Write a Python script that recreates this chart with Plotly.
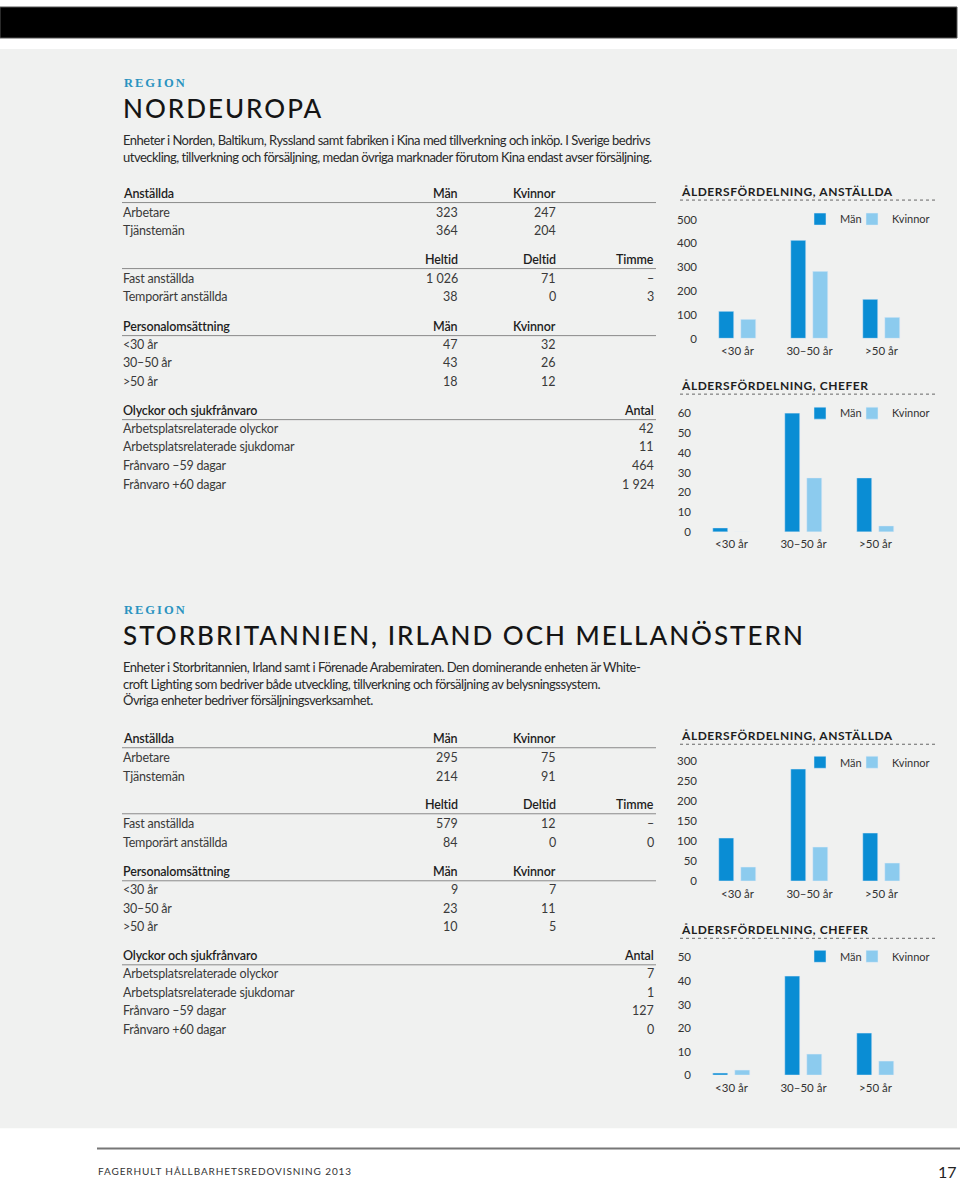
import plotly.graph_objects as go

W, H = 960, 1185
FONT = "Lato, 'Noto Sans', sans-serif"
SERIF = "'Liberation Serif', 'DejaVu Serif', serif"

MEN_COLOR = "#0a8dd4"
WOMEN_COLOR = "#8ccbee"
BG = "#f0f1f0"
TEXT = "#3a3a3a"
HEAD = "#1e1e1e"
ACCENT = "#2a93c0"

# ---------------- data ----------------
age_groups = ["<30 år", "30–50 år", ">50 år"]
legend_names = ["Män", "Kvinnor"]

ne_staff_men = [112, 413, 162]
ne_staff_women = [80, 283, 88]
ne_mgr_men = [2, 60, 27]
ne_mgr_women = [0, 27, 3]
uk_staff_men = [108, 281, 120]
uk_staff_women = [35, 85, 46]
uk_mgr_men = [1, 42, 18]
uk_mgr_women = [2, 9, 6]

chart_titles = ["ÅLDERSFÖRDELNING, ANSTÄLLDA", "ÅLDERSFÖRDELNING, CHEFER"]

ne_title = "NORDEUROPA"
ne_intro = [
    "Enheter i Norden, Baltikum, Ryssland samt fabriken i Kina med tillverkning och inköp. I Sverige bedrivs",
    "utveckling, tillverkning och försäljning, medan övriga marknader förutom Kina endast avser försäljning.",
]
uk_title = "STORBRITANNIEN, IRLAND OCH MELLANÖSTERN"
uk_intro = [
    "Enheter i Storbritannien, Irland samt i Förenade Arabemiraten. Den dominerande enheten är White-",
    "croft Lighting som bedriver både utveckling, tillverkning och försäljning av belysningssystem.",
    "Övriga enheter bedriver försäljningsverksamhet.",
]

hdr_staff = ["Anställda", "Män", "Kvinnor"]
hdr_contract = ["", "Heltid", "Deltid", "Timme"]
hdr_turnover = ["Personalomsättning", "Män", "Kvinnor"]
hdr_absence = ["Olyckor och sjukfrånvaro", "Antal"]

ne_staff = [("Arbetare", "323", "247"), ("Tjänstemän", "364", "204")]
ne_contract = [("Fast anställda", "1 026", "71", "–"), ("Temporärt anställda", "38", "0", "3")]
ne_turnover = [("<30 år", "47", "32"), ("30–50 år", "43", "26"), (">50 år", "18", "12")]
ne_absence = [("Arbetsplatsrelaterade olyckor", "42"), ("Arbetsplatsrelaterade sjukdomar", "11"),
              ("Frånvaro –59 dagar", "464"), ("Frånvaro +60 dagar", "1 924")]

uk_staff = [("Arbetare", "295", "75"), ("Tjänstemän", "214", "91")]
uk_contract = [("Fast anställda", "579", "12", "–"), ("Temporärt anställda", "84", "0", "0")]
uk_turnover = [("<30 år", "9", "7"), ("30–50 år", "23", "11"), (">50 år", "10", "5")]
uk_absence = [("Arbetsplatsrelaterade olyckor", "7"), ("Arbetsplatsrelaterade sjukdomar", "1"),
              ("Frånvaro –59 dagar", "127"), ("Frånvaro +60 dagar", "0")]

footer_text = "FAGERHULT HÅLLBARHETSREDOVISNING 2013"
page_no = "17"

# ---------------- helpers ----------------
annotations = []
shapes = []

# vertical layout positions below are measured on the reference picture;
# they are mapped to page pixels here
Y_OFF, Y_SCALE = 7.0, 0.9887


def Y(y):
    return max(0.0, (y - Y_OFF) / Y_SCALE)


def esc(s):
    return s.replace("&", "&amp;").replace("<", "&lt;").replace(">", "&gt;")


def text(x, y, s, size=12.5, color=TEXT, anchor="left", weight=None, family=FONT, spacing=None):
    body = esc(s)
    if spacing is not None:
        body = f'<span style="letter-spacing:{spacing}px">{body}</span>'
    f = dict(family=family, size=size, color=color)
    if weight is not None:
        f["weight"] = weight
    annotations.append(dict(
        x=x / W, y=1 - Y(y) / H, xref="paper", yref="paper", text=body, showarrow=False,
        xanchor=anchor, yanchor="middle", font=f, borderpad=0))


def hline(y, x0, x1, color="#8a8a8a", width=1, dash="solid"):
    yy = 1 - Y(y) / H
    shapes.append(dict(type="line", xref="paper", yref="paper", x0=x0 / W, x1=x1 / W,
                       y0=yy, y1=yy, line=dict(color=color, width=width, dash=dash)))


def rect(x0, y0, x1, y1, fill, line=None):
    shapes.append(dict(type="rect", xref="paper", yref="paper", x0=x0 / W, x1=x1 / W,
                       y0=1 - Y(y1) / H, y1=1 - Y(y0) / H, fillcolor=fill,
                       line=dict(width=1 if line else 0, color=line or fill), layer="below"))


# ---------------- page background ----------------
rect(0, 0, 957, 38, "#000000", line="#555555")
rect(0, 49, 957, 1128, BG)
hline(1148, 97, 960, color="#777777", width=2)
text(97, 1171, footer_text, size=10, color="#333333", spacing=0.9)
text(958, 1171, page_no, size=16, color="#222222", anchor="right")

# ---------------- region headers ----------------
LX = 122
COLS = [459, 557, 655]


def region(y0, title, intro):
    text(LX + 1, y0, "REGION", size=12.5, color=ACCENT, family=SERIF, weight="bold", spacing=2.0)
    text(LX, y0 + 25, title, size=26, color="#151515", weight=500, spacing=2.0)
    for i, line in enumerate(intro):
        text(LX, y0 + 57 + i * 16.6, line, size=13, color="#2a2a2a", spacing=-0.5)


region(83, ne_title, ne_intro)
region(610, uk_title, uk_intro)


def table(top, staff, contract, turnover, absence):
    def head(y, labels, cols):
        if labels[0]:
            text(LX, y, labels[0], weight=600, color=HEAD, spacing=-0.15)
        for lab, cx in zip(labels[1:], cols):
            text(cx, y, lab, weight=600, color=HEAD, anchor="right", spacing=-0.15)
        hline(y + 9.5, LX, 656)

    def rows(y, data, cols):
        for i, row in enumerate(data):
            yy = y + i * 18.8
            text(LX, yy, row[0], spacing=-0.2)
            for v, cx in zip(row[1:], cols):
                text(cx, yy, v, anchor="right")

    head(top, hdr_staff, COLS[:2])
    rows(top + 19, staff, COLS[:2])
    head(top + 66, hdr_contract, COLS)
    rows(top + 85, contract, COLS)
    head(top + 133, hdr_turnover, COLS[:2])
    rows(top + 151, turnover, COLS[:2])
    head(top + 217, hdr_absence, COLS[2:])
    rows(top + 235, absence, COLS[2:])


table(193, ne_staff, ne_contract, ne_turnover, ne_absence)
table(738, uk_staff, uk_contract, uk_turnover, uk_absence)

# ---------------- charts ----------------
fig = go.Figure()

charts = [
    dict(men=ne_staff_men, women=ne_staff_women, base=338.5, top=219.5, ymax=500, dtick=100,
         c0=737.5, L=700, title=chart_titles[0], ty=191, ly=219),
    dict(men=ne_mgr_men, women=ne_mgr_women, base=531.7, top=413.0, ymax=60, dtick=10,
         c0=731.5, L=694, title=chart_titles[1], ty=385, ly=413),
    dict(men=uk_staff_men, women=uk_staff_women, base=881.0, top=761.0, ymax=300, dtick=50,
         c0=737.5, L=700, title=chart_titles[0], ty=735, ly=762),
    dict(men=uk_mgr_men, women=uk_mgr_women, base=1075.0, top=957.0, ymax=50, dtick=10,
         c0=731.5, L=694, title=chart_titles[1], ty=929, ly=956),
]

STEP = 72.0          # px per category
BW = 15.5            # bar width px
GAP = 6.5            # gap between paired bars px
R = 930
LEG_X = [800, 852]   # left edges of the two legend entries (px)

layout_axes = {"showlegend": True}
n_leg = 1
for i, c in enumerate(charts, start=1):
    xa = "x" if i == 1 else f"x{i}"
    ya = "y" if i == 1 else f"y{i}"
    legs = []
    for k in range(2):
        n_leg += 1
        legs.append(f"legend{n_leg}")
    fig.add_trace(go.Bar(
        x=age_groups, y=c["men"], name=legend_names[0], marker_color=MEN_COLOR,
        width=BW / STEP, offset=-(BW + GAP / 2) / STEP, xaxis=xa, yaxis=ya, legend=legs[0],
        showlegend=True, hoverinfo="x+y+name"))
    fig.add_trace(go.Bar(
        x=age_groups, y=c["women"], name=legend_names[1], marker_color=WOMEN_COLOR,
        width=BW / STEP, offset=(GAP / 2) / STEP, xaxis=xa, yaxis=ya, legend=legs[1],
        showlegend=True, hoverinfo="x+y+name"))

    xkey = "xaxis" if i == 1 else f"xaxis{i}"
    ykey = "yaxis" if i == 1 else f"yaxis{i}"
    layout_axes[xkey] = dict(
        domain=[c["L"] / W, R / W], anchor=ya, type="category",
        range=[(c["L"] - c["c0"]) / STEP, (R - c["c0"]) / STEP],
        showgrid=False, zeroline=False, showline=False, ticks="",
        tickfont=dict(family=FONT, size=11.5, color="#333333"), ticklabelstandoff=4,
        fixedrange=True)
    layout_axes[ykey] = dict(
        domain=[1 - Y(c["base"]) / H, 1 - Y(c["top"]) / H], anchor=xa,
        range=[0, c["ymax"]], tick0=0, dtick=c["dtick"],
        showgrid=False, zeroline=False, showline=False, ticks="",
        tickfont=dict(family=FONT, size=11.5, color="#333333"), ticklabelstandoff=2,
        fixedrange=True)
    for k, lg in enumerate(legs):
        layout_axes[lg] = dict(
            orientation="h", x=LEG_X[k] / W, xanchor="left", y=1 - Y(c["ly"]) / H,
            yanchor="middle", bgcolor="rgba(0,0,0,0)",
            font=dict(family=FONT, size=11, color="#333333"),
            itemwidth=30, borderwidth=0, visible=True)

    text(680, c["ty"], c["title"], size=12, color="#1e1e1e", weight="bold", spacing=0.55)
    hline(c["ty"] + 9, 680, 935, color="#666666", width=1, dash="dot")

fig.update_layout(
    width=W, height=H, autosize=False,
    margin=dict(l=0, r=0, t=0, b=0),
    paper_bgcolor="#ffffff", plot_bgcolor="rgba(0,0,0,0)",
    barmode="overlay", bargap=0,
    font=dict(family=FONT, color=TEXT),
    annotations=annotations, shapes=shapes,
    **layout_axes,
)

POST = (
    "document.documentElement.style.margin='0';document.body.style.margin='0';"
    "document.documentElement.style.overflow='hidden';document.body.style.overflow='hidden';"
    "var gd=document.getElementById('{plot_id}');"
    "gd.style.position='absolute';gd.style.left='0px';gd.style.top='0px';"
)

fig.write_html("out.html", post_script=POST, config={"displayModeBar": False})
